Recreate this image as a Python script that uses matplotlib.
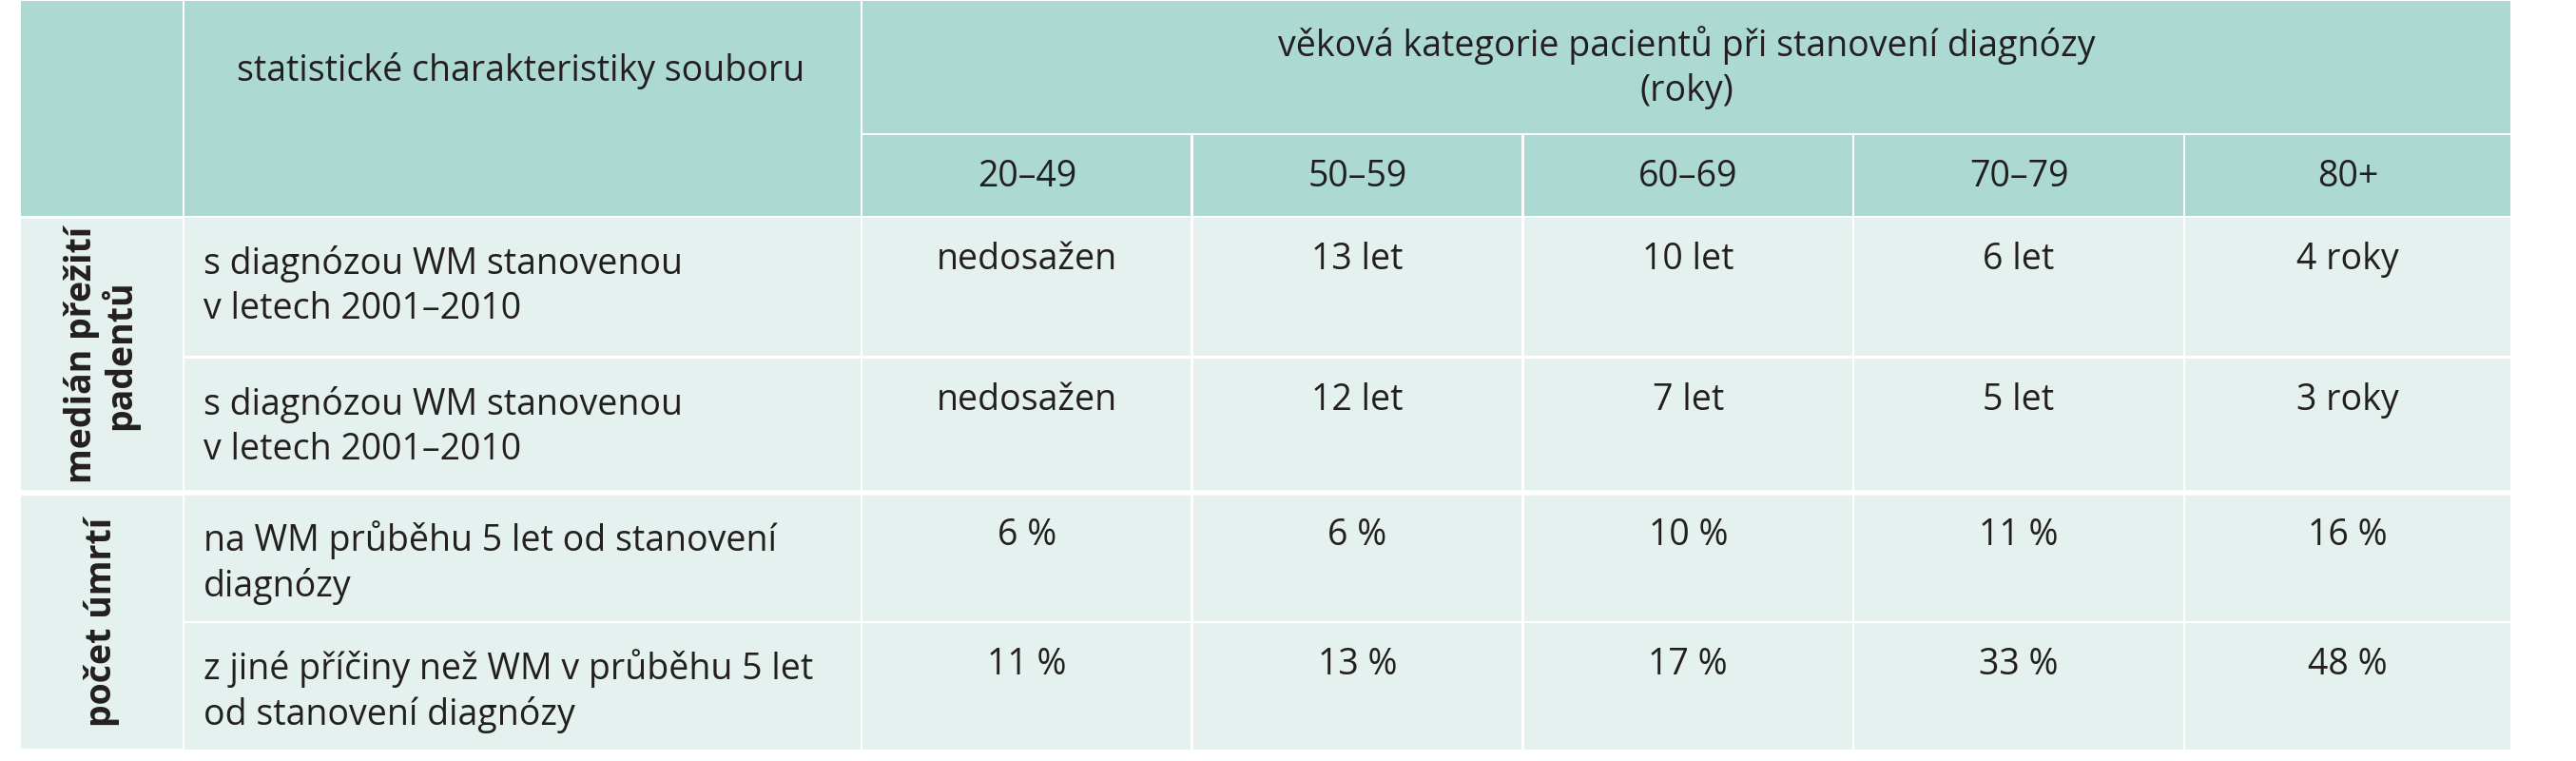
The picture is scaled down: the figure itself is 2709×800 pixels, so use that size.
import matplotlib
matplotlib.use("Agg")
import matplotlib.pyplot as plt
from matplotlib.patches import Rectangle

plt.rcParams['font.family'] = ['Open Sans', 'DejaVu Sans']

age_groups = ["20–49", "50–59", "60–69", "70–79", "80+"]
group_labels = ["medián přežití\npadentů", "počet úmrtí"]
row_labels = ["s diagnózou WM stanovenou\nv letech 2001–2010",
              "s diagnózou WM stanovenou\nv letech 2001–2010",
              "na WM průběhu 5 let od stanovení\ndiagnózy",
              "z jiné příčiny než WM v průběhu 5 let\nod stanovení diagnózy"]
values = [["nedosažen", "13 let", "10 let", "6 let", "4 roky"],
          ["nedosažen", "12 let", "7 let", "5 let", "3 roky"],
          ["6 %", "6 %", "10 %", "11 %", "16 %"],
          ["11 %", "13 %", "17 %", "33 %", "48 %"]]

HEAD = "#acdad3"
BODY = "#e4f1ee"
TXT = "#231f20"

fig = plt.figure(figsize=(27.09, 8), dpi=100)
ax = fig.add_axes([0, 0, 1, 1])
ax.set_xlim(0, 1558)
ax.set_ylim(460, 0)
ax.axis('off')

g = 1.5
xs = [12, 111, 521, 721, 921, 1121, 1321, 1519]
ys_rows = [131, 216, 298, 376, 454]
fs = 27

def cell(x0, x1, y0, y1, c):
    ax.add_patch(Rectangle((x0 + g/2, y0 + g/2), x1 - x0 - g, y1 - y0 - g, color=c, lw=0))

cell(xs[0], xs[1], 0, 131, HEAD)
cell(xs[1], xs[2], 0, 131, HEAD)
ax.text(315, 43, "statistické charakteristiky souboru", ha='center', va='center', fontsize=fs, color=TXT)
cell(xs[2], xs[7], 0, 81, HEAD)
ax.text((xs[2] + xs[7]) / 2, 41, "věková kategorie pacientů při stanovení diagnózy\n(roky)",
        ha='center', va='center', fontsize=fs, color=TXT, linespacing=1.3)
for i, a in enumerate(age_groups):
    cell(xs[2 + i], xs[3 + i], 81, 131, HEAD)
    ax.text((xs[2 + i] + xs[3 + i]) / 2, 107, a, ha='center', va='center', fontsize=fs, color=TXT)

for gi, lab in enumerate(group_labels):
    y0, y1 = ys_rows[2 * gi], ys_rows[2 * gi + 2]
    ax.add_patch(Rectangle((xs[0] + g/2, y0 + g), xs[1] - xs[0] - g, y1 - y0 - 2*g, color=BODY, lw=0))
    ax.text((xs[0] + xs[1]) / 2, (y0 + y1) / 2, lab, rotation=90, ha='center', va='center',
            fontsize=fs, fontweight='bold', color=TXT, linespacing=1.0)

for r in range(4):
    y0, y1 = ys_rows[r], ys_rows[r + 1]
    cell(xs[1], xs[2], y0, y1, BODY)
    ax.text(xs[1] + 12, y0 + 42, row_labels[r], ha='left', va='center', fontsize=fs,
            color=TXT, linespacing=1.3)
    for c in range(5):
        cell(xs[2 + c], xs[3 + c], y0, y1, BODY)
        ax.text((xs[2 + c] + xs[3 + c]) / 2, y0 + 26, values[r][c], ha='center', va='center',
                fontsize=fs, color=TXT)

ax.plot([xs[0], xs[7]], [ys_rows[2], ys_rows[2]], color='white', lw=4)

fig.savefig("out.png", dpi=100, facecolor='white')
